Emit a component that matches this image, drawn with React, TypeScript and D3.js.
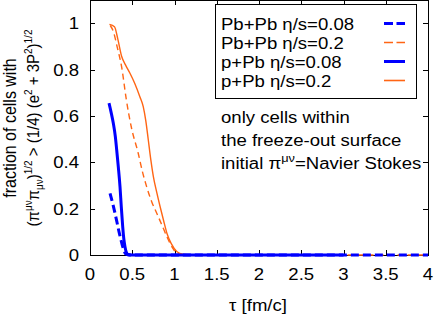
import React, { useRef, useEffect } from "react";
import * as d3 from "d3";

const W = 436;
const H = 318;
const PLOT = { left: 90, right: 428, top: 0, bottom: 255 };
const SX = 1.16; // glyphs in the original are wider than Arial

const xTicks = [0, 0.5, 1, 1.5, 2, 2.5, 3, 3.5, 4];
const yTicks = [0, 0.2, 0.4, 0.6, 0.8, 1];

// Pb+Pb eta/s=0.08 (dashed blue)
const pbpb008Tau = [0.237, 0.27, 0.296, 0.32, 0.347, 0.37, 0.387, 0.41, 0.43, 0.46, 4];
const pbpb008Val = [0.266, 0.22, 0.18, 0.14, 0.094, 0.06, 0.036, 0.012, 0.003, 0, 0];

// Pb+Pb eta/s=0.2 (dashed orange)
const pbpb02Tau = [0.24, 0.28, 0.32, 0.375, 0.43, 0.49, 0.57, 0.62, 0.67, 0.73, 0.79, 0.85, 0.91, 0.97, 1.03, 1.1, 1.2, 4];
const pbpb02Val = [0.99, 0.96, 0.9, 0.81, 0.67, 0.55, 0.44, 0.36, 0.295, 0.23, 0.18, 0.13, 0.079, 0.035, 0.007, 0.001, 0, 0];

// p+Pb eta/s=0.08 (solid blue)
const ppb008Tau = [0.225, 0.25, 0.276, 0.3, 0.316, 0.335, 0.355, 0.37, 0.387, 0.4, 0.414, 0.43, 0.45, 0.5, 3];
const ppb008Val = [0.655, 0.615, 0.568, 0.51, 0.453, 0.38, 0.295, 0.21, 0.122, 0.07, 0.036, 0.012, 0.002, 0, 0];

// p+Pb eta/s=0.2 (solid orange)
const ppb02Tau = [0.23, 0.29, 0.33, 0.375, 0.42, 0.473, 0.53, 0.59, 0.63, 0.66, 0.69, 0.72, 0.75, 0.79, 0.83, 0.87, 0.91, 0.96, 1.03, 1.1, 1.2, 3];
const ppb02Val = [0.995, 0.985, 0.93, 0.856, 0.82, 0.784, 0.74, 0.683, 0.64, 0.58, 0.496, 0.41, 0.338, 0.27, 0.208, 0.15, 0.094, 0.05, 0.014, 0.003, 0, 0];

const legendLabels = ["Pb+Pb η/s=0.08", "Pb+Pb η/s=0.2", "p+Pb η/s=0.08", "p+Pb η/s=0.2"];
const noteLines = ["only cells within", "the freeze-out surface"];

const BLUE = "#0000ff";
const ORANGE = "#ff6514";
const FONT = "'Liberation Sans', Arial, sans-serif";

export default function App() {
  const ref = useRef(null);

  useEffect(() => {
    const svg = d3.select(ref.current);
    svg.selectAll("*").remove();

    const x = d3.scaleLinear().domain([0, 4]).range([PLOT.left, PLOT.right]);
    const y = d3.scaleLinear().domain([0, 1.1]).range([PLOT.bottom, PLOT.top]);

    const series = [
      { tau: pbpb02Tau, val: pbpb02Val, color: ORANGE, width: 1.4, dash: "6,4" },
      { tau: ppb02Tau, val: ppb02Val, color: ORANGE, width: 1.4, dash: null },
      { tau: pbpb008Tau, val: pbpb008Val, color: BLUE, width: 3, dash: "8,4" },
      { tau: ppb008Tau, val: ppb008Val, color: BLUE, width: 3, dash: null },
    ];

    const g = svg.append("g");

    // horizontally stretched text at (tx, ty)
    const label = (parent, tx, ty, anchor) =>
      parent
        .append("text")
        .attr("transform", `translate(${tx},${ty}) scale(${SX},1)`)
        .attr("text-anchor", anchor)
        .attr("font-family", FONT)
        .attr("font-size", 16);

    // frame
    g.append("rect")
      .attr("x", PLOT.left + 0.5)
      .attr("y", PLOT.top + 0.5)
      .attr("width", PLOT.right - PLOT.left)
      .attr("height", PLOT.bottom - PLOT.top)
      .attr("fill", "none")
      .attr("stroke", "#000")
      .attr("stroke-width", 1);

    // ticks, mirrored on all sides
    xTicks.forEach((t) => {
      const px = Math.round(x(t)) + 0.5;
      g.append("line").attr("x1", px).attr("x2", px).attr("y1", PLOT.bottom).attr("y2", PLOT.bottom - 5).attr("stroke", "#000");
      g.append("line").attr("x1", px).attr("x2", px).attr("y1", PLOT.top).attr("y2", PLOT.top + 5).attr("stroke", "#000");
      label(g, x(t), 280, "middle").text(String(t));
    });

    yTicks.forEach((t) => {
      const py = Math.round(y(t)) + 0.5;
      g.append("line").attr("x1", PLOT.left).attr("x2", PLOT.left + 5).attr("y1", py).attr("y2", py).attr("stroke", "#000");
      g.append("line").attr("x1", PLOT.right).attr("x2", PLOT.right - 5).attr("y1", py).attr("y2", py).attr("stroke", "#000");
      label(g, 79, y(t) + 6, "end").text(String(t));
    });

    const gen = d3
      .line<[number, number]>()
      .x((d) => x(d[0]))
      .y((d) => y(d[1]))
      .curve(d3.curveMonotoneX);

    series.forEach((s) => {
      const pts = s.tau.map((t, i) => [t, s.val[i]] as [number, number]);
      g.append("path")
        .attr("d", gen(pts))
        .attr("fill", "none")
        .attr("stroke", s.color)
        .attr("stroke-width", s.width)
        .attr("stroke-dasharray", s.dash)
        .attr("stroke-linejoin", "round");
    });

    // legend
    const leg = g.append("g");
    leg.append("rect")
      .attr("x", 215.5)
      .attr("y", 4.5)
      .attr("width", 201)
      .attr("height", 94)
      .attr("fill", "#fff")
      .attr("stroke", "#000");
    const legendStyle = [series[2], series[0], series[3], series[1]];
    legendLabels.forEach((lab, i) => {
      const cy = 23.5 + i * 19;
      label(leg, 221, cy + 6, "start").text(lab);
      const s = legendStyle[i];
      leg.append("line")
        .attr("x1", 384)
        .attr("x2", 405)
        .attr("y1", cy)
        .attr("y2", cy)
        .attr("stroke", s.color)
        .attr("stroke-width", s.width === 3 ? 3 : 1.6)
        .attr("stroke-dasharray", s.dash ? "9,3.5" : null);
    });

    // annotation
    noteLines.forEach((txt, i) => label(g, 221, 123 + i * 23, "start").text(txt));
    const t3 = label(g, 221, 169, "start");
    t3.append("tspan").text("initial π");
    t3.append("tspan").attr("font-size", 11).attr("dy", -7).text("μν");
    t3.append("tspan").attr("dy", 7).text("=Navier Stokes");

    // x label
    label(g, 258, 311, "middle").text("τ [fm/c]");

    // y label
    const yl = g
      .append("g")
      .attr("transform", `translate(0,128) scale(${SX},1) rotate(-90)`)
      .attr("font-family", FONT)
      .attr("font-size", 16);
    yl.append("text").attr("x", 0).attr("y", 14.2).attr("text-anchor", "middle").text("fraction of cells with");
    const l2 = yl.append("text").attr("x", 0).attr("y", 33.2).attr("text-anchor", "middle").attr("font-size", 15);
    l2.append("tspan").text("(π");
    l2.append("tspan").attr("font-size", 10).attr("dy", -6).text("μν");
    l2.append("tspan").attr("dy", 6).text("π");
    l2.append("tspan").attr("font-size", 10).attr("dy", 4).text("μν");
    l2.append("tspan").attr("dy", -4).text(")");
    l2.append("tspan").attr("font-size", 10).attr("dy", -6).text("1/2");
    l2.append("tspan").attr("dy", 6).text(" > (1/4) (e");
    l2.append("tspan").attr("font-size", 10).attr("dy", -6).text("2");
    l2.append("tspan").attr("dy", 6).text(" + 3P");
    l2.append("tspan").attr("font-size", 10).attr("dy", -6).text("2");
    l2.append("tspan").attr("dy", 6).text(")");
    l2.append("tspan").attr("font-size", 10).attr("dy", -6).text("1/2");
  }, []);

  return (
    <svg
      ref={ref}
      width={W}
      height={H}
      style={{ position: "absolute", left: 0, top: 0, background: "#fff" }}
    />
  );
}
